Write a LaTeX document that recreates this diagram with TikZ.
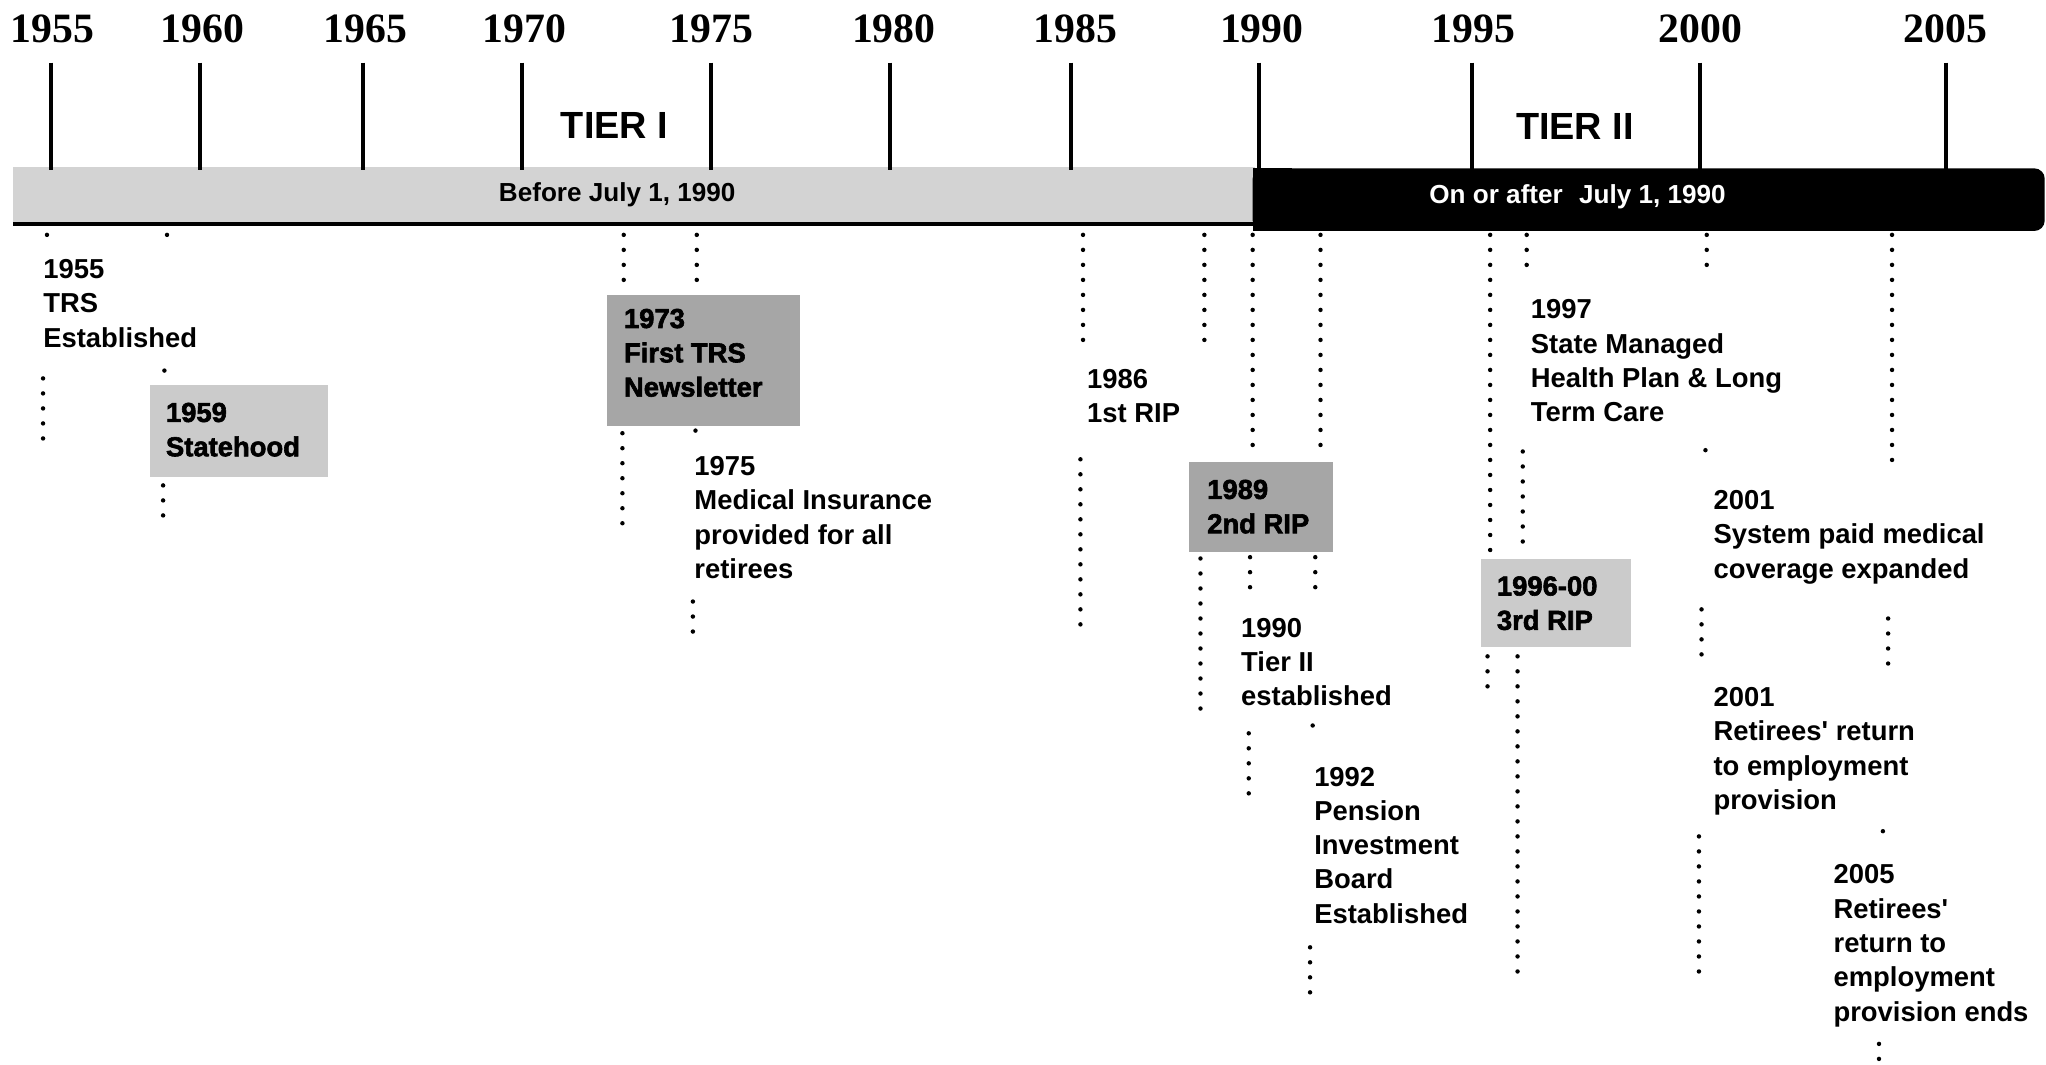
\documentclass[tikz,border=0pt]{standalone}
\usepackage{fontspec}
\setmainfont{Liberation Sans}
\newfontfamily\yearfont{Liberation Serif}
\newfontfamily\evfont{Liberation Sans}
\newfontfamily\heavyfont{Liberation Sans}[UprightFont={* Bold}, UprightFeatures={FakeBold=2.2}]
\definecolor{barlight}{HTML}{D3D3D3}
\definecolor{boxlight}{HTML}{CBCBCB}
\definecolor{boxdark}{HTML}{A6A6A6}
\begin{document}
\begin{tikzpicture}[x=1pt,y=-1pt,
  yearlbl/.style={font=\yearfont\bfseries\fontsize{32}{32}\selectfont, inner sep=0},
  tickline/.style={line width=3pt},
  tierlbl/.style={font=\evfont\bfseries\fontsize{29}{29}\selectfont, inner sep=0},
  barlbl/.style={font=\evfont\bfseries\fontsize{20}{20}\selectfont, inner sep=0},
  ev/.style={font=\evfont\bfseries\fontsize{21}{26.3}\selectfont, align=left, anchor=north west, inner sep=0},
  evbox/.style={ev, font=\heavyfont\fontsize{21}{26.3}\selectfont},
  shadebox/.style={draw=none, inner sep=0, anchor=north west},
  dots/.style={line width=3.4pt, line cap=round, dash pattern=on 0pt off 11.5pt}
]
\useasboundingbox (0,0) rectangle (1568,816);
\fill[white] (0,0) rectangle (1568,816);

% ---- time bar ----
\fill[barlight] (10,128) rectangle (962,172);
\draw[line width=3pt] (10,172) -- (962,172);
\fill[rounded corners=8pt] (960,129) rectangle (1567,177);
\fill (960,129) rectangle (990,177);
\node[barlbl] (before) at (473,149) {Before July 1, 1990};
\node[barlbl, text=white] (after) at (1209,151) {On or after\hspace{0.35em} July 1, 1990};

% ---- years and ticks ----
\foreach \yr/\lx/\tx in {1955/40/39,1960/155/153,1965/280/278,1970/402/400,1975/545/545,1980/685/682,1985/824/821,1990/967/965,1995/1129/1128,2000/1303/1303,2005/1491/1491}{
  \node[yearlbl] (y\yr) at (\lx,22) {\yr};
  \draw[tickline] (\tx,48) -- (\tx,130);
}
\node[tierlbl] (tier1) at (471,96) {TIER I};
\node[tierlbl] (tier2) at (1207,97) {TIER II};

% ---- shaded boxes ----
\node[shadebox, fill=boxlight, minimum width=136pt, minimum height=70pt] (bx59) at (115,295) {};
\node[shadebox, fill=boxdark, minimum width=148pt, minimum height=100pt] (bx73) at (465,226) {};
\node[shadebox, fill=boxdark, minimum width=110pt, minimum height=69pt] (bx89) at (911,354) {};
\node[shadebox, fill=boxlight, minimum width=115pt, minimum height=68pt] (bx96) at (1135,428) {};

% ---- dotted leaders ----
\fill (36,180) circle (1.7);
\fill (128,180) circle (1.7);
\draw[dots] (33,290) -- (33,338);
\draw[dots] (126,284) -- (126,294);
\draw[dots] (125,372) -- (125,397);
\draw[dots] (478,180) -- (478,215);
\draw[dots] (477,332) -- (477,405);
\draw[dots] (534,180) -- (534,215);
\fill (533,330) circle (1.7);
\draw[dots] (531,461) -- (531,484);
\draw[dots] (830,180) -- (830,262);
\draw[dots] (828,352) -- (828,480);
\draw[dots] (923,180) -- (923,262);
\draw[dots] (920,428) -- (920,548);
\draw[dots] (960,180) -- (960,348);
\draw[dots] (958,427) -- (958,450);
\draw[dots] (957,562) -- (957,608);
\draw[dots] (1012,180) -- (1012,348);
\draw[dots] (1008,427) -- (1008,455);
\draw[dots] (1006,556) -- (1006,567);
\draw[dots] (1004,726) -- (1004,763);
\draw[dots] (1142,180) -- (1142,422);
\draw[dots] (1140,503) -- (1140,528);
\draw[dots] (1170,180) -- (1170,214);
\draw[dots] (1167,346) -- (1167,420);
\draw[dots] (1163,503) -- (1163,750);
\draw[dots] (1308,180) -- (1308,214);
\draw[dots] (1307,345) -- (1307,354);
\draw[dots] (1304,467) -- (1304,510);
\draw[dots] (1302,641) -- (1302,750);
\draw[dots] (1450,180) -- (1450,360);
\draw[dots] (1447,474) -- (1447,510);
\draw[dots] (1443,637) -- (1443,648);
\draw[dots] (1440,800) -- (1440,815);

% ---- event texts ----
\node[ev] (e55) at (33,198.5) {1955\\TRS\\Established};
\node[evbox] (e59) at (127,308.5) {1959\\Statehood};
\node[evbox] (e73) at (478,236.5) {1973\\First TRS\\Newsletter};
\node[ev] (e75) at (532,349.5) {1975\\Medical Insurance\\provided for all\\retirees};
\node[ev] (e86) at (833,282.5) {1986\\1st RIP};
\node[evbox] (e89) at (925,367.5) {1989\\2nd RIP};
\node[ev] (e90) at (951,473.5) {1990\\Tier II\\established};
\node[ev] (e92) at (1007,587.5) {1992\\Pension\\Investment\\Board\\Established};
\node[evbox] (e96) at (1147,441.5) {1996-00\\3rd RIP};
\node[ev] (e97) at (1173,229.5) {1997\\State Managed\\Health Plan \& Long\\Term Care};
\node[ev] (e01a) at (1313,375.5) {2001\\System paid medical\\coverage expanded};
\node[ev] (e01b) at (1313,526.5) {2001\\Retirees' return\\to employment\\provision};
\node[ev] (e05) at (1405,662.5) {2005\\Retirees'\\return to\\employment\\provision ends};
\end{tikzpicture}
\end{document}
